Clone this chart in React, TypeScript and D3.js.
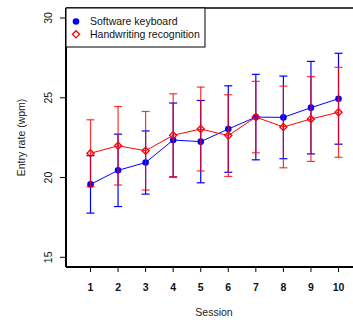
import * as d3 from "d3";
import React from "react";

// sessions and mean entry rates (wpm) with error half-widths
const sessions = [1, 2, 3, 4, 5, 6, 7, 8, 9, 10];
const keyboardMean = [19.57, 20.45, 20.94, 22.35, 22.25, 23.04, 23.79, 23.77, 24.38, 24.94];
const keyboardErr = [1.8, 2.27, 1.98, 2.32, 2.58, 2.71, 2.68, 2.59, 2.9, 2.85];
const handwritingMean = [21.52, 21.99, 21.68, 22.65, 23.04, 22.63, 23.79, 23.17, 23.67, 24.09];
const handwritingErr = [2.1, 2.46, 2.46, 2.6, 2.63, 2.56, 2.24, 2.56, 2.66, 2.82];
const yTicks = [15, 20, 25, 30];
const seriesNames = ["Software keyboard", "Handwriting recognition"];

const W = 353;
const H = 320;
const font = "'Liberation Sans', Arial, Helvetica, sans-serif";

export default function App() {
  const x = d3.scaleLinear([1, 10], [90.5, 338.5]);
  const y = d3.scaleLinear([15, 30], [257.3, 18]);
  const frame = { left: 66, top: 8, bottom: 267 };

  const line = d3
    .line<number>()
    .x((_, i) => x(sessions[i]))
    .y((d) => y(d));

  const diamond = (cx: number, cy: number, s = 3.6) =>
    `M${cx},${cy - s}L${cx + s},${cy}L${cx},${cy + s}L${cx - s},${cy}Z`;

  const errorBars = (means: number[], errs: number[], color: string, opacity: number) =>
    means.map((m, i) => {
      const cx = x(sessions[i]);
      const y0 = y(m - errs[i]);
      const y1 = y(m + errs[i]);
      return (
        <g key={i} stroke={color} strokeOpacity={opacity} strokeWidth={1.2}>
          <line x1={cx} x2={cx} y1={y0} y2={y1} />
          <line x1={cx - 4} x2={cx + 4} y1={y0} y2={y0} />
          <line x1={cx - 4} x2={cx + 4} y1={y1} y2={y1} />
        </g>
      );
    });

  return (
    <svg
      width={W}
      height={H}
      style={{ position: "absolute", left: 0, top: 0, background: "#fff" }}
      fontFamily={font}
    >
      {/* frame */}
      <line x1={frame.left} x2={W} y1={frame.top} y2={frame.top} stroke="#000" strokeWidth={1.5} />
      <line x1={frame.left} x2={frame.left} y1={frame.top} y2={frame.bottom} stroke="#000" strokeWidth={2} />
      <line x1={frame.left} x2={W} y1={frame.bottom} y2={frame.bottom} stroke="#000" strokeWidth={2} />

      {/* y axis */}
      {yTicks.map((t) => (
        <g key={t}>
          <line x1={60} x2={frame.left} y1={y(t)} y2={y(t)} stroke="#000" />
          <text
            transform={`translate(51.5,${y(t)}) rotate(-90)`}
            textAnchor="middle"
            fontSize={10.5}
            fill="#111"
          >
            {t}
          </text>
        </g>
      ))}
      <text
        transform={`translate(25,${(frame.top + frame.bottom) / 2}) rotate(-90)`}
        textAnchor="middle"
        fontSize={10.5}
        fill="#222"
      >
        Entry rate (wpm)
      </text>

      {/* x axis */}
      {sessions.map((s) => (
        <g key={s}>
          <line x1={x(s)} x2={x(s)} y1={frame.bottom} y2={272} stroke="#000" />
          <text x={x(s)} y={290.7} textAnchor="middle" fontSize={10.5} fontWeight="bold" fill="#111">
            {s}
          </text>
        </g>
      ))}
      <text x={214} y={316} textAnchor="middle" fontSize={10.5} fill="#222">
        Session
      </text>

      {/* software keyboard */}
      {errorBars(keyboardMean, keyboardErr, "#0000ff", 1)}
      <path d={line(keyboardMean) ?? ""} fill="none" stroke="#0000ff" strokeWidth={1} />
      {keyboardMean.map((m, i) => (
        <circle key={i} cx={x(sessions[i])} cy={y(m)} r={3.3} fill="#0000ff" />
      ))}

      {/* handwriting recognition */}
      {errorBars(handwritingMean, handwritingErr, "#ff0000", 0.8)}
      <path d={line(handwritingMean) ?? ""} fill="none" stroke="#ff0000" strokeWidth={1} />
      {handwritingMean.map((m, i) => (
        <path key={i} d={diamond(x(sessions[i]), y(m))} fill="none" stroke="#ff0000" strokeWidth={1.3} />
      ))}

      {/* legend */}
      <rect x={frame.left} y={frame.top} width={139} height={39} fill="#fff" stroke="#000" strokeWidth={1} />
      <circle cx={76} cy={21.5} r={3.3} fill="#0000ff" />
      <text x={90} y={25.2} fontSize={10.5} fill="#111">
        {seriesNames[0]}
      </text>
      <path d={diamond(76, 34.3)} fill="none" stroke="#ff0000" strokeWidth={1.3} />
      <text x={90} y={38} fontSize={10.5} fill="#111">
        {seriesNames[1]}
      </text>
    </svg>
  );
}
